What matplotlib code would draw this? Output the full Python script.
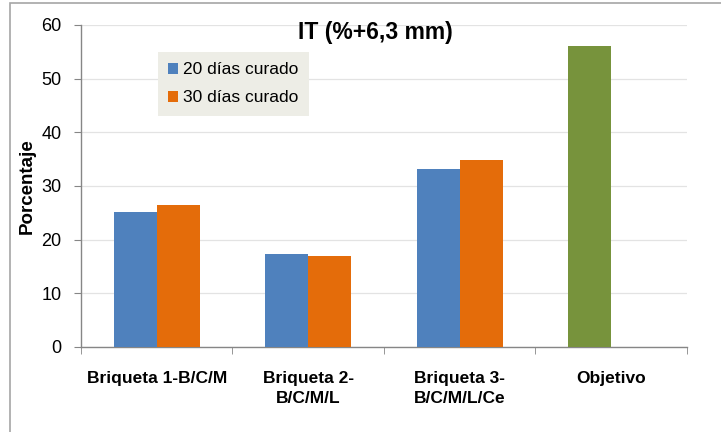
import matplotlib
matplotlib.use('Agg')
import matplotlib.pyplot as plt
from matplotlib.patches import Rectangle
import numpy as np

plt.rcParams['font.family'] = ['Liberation Sans', 'DejaVu Sans']

categories = ['Briqueta 1-B/C/M', 'Briqueta 2-\nB/C/M/L', 'Briqueta 3-\nB/C/M/L/Ce', 'Objetivo']
dias20 = [25.1, 17.3, 33.1, 56.0]
dias30 = [26.4, 17.0, 34.9, np.nan]
series_names = ['20 días curado', '30 días curado']
colors20 = ['#4F81BD', '#4F81BD', '#4F81BD', '#77933C']
color30 = '#E46C0A'

fig = plt.figure(figsize=(7.21, 4.32), dpi=100)
fig.patches.append(Rectangle((10 / 721, -0.05), 1.2, 1 - 3 / 432 + 0.05,
                             transform=fig.transFigure, fill=False,
                             edgecolor='#A6A6A6', linewidth=1.2))
ax = fig.add_axes([0.1123, 0.1968, 0.8405, 0.7454])

x = np.arange(len(categories))
w = 0.284
b1 = ax.bar(x - w / 2, dias20, w, color=colors20, label=series_names[0], zorder=3)
b2 = ax.bar(x + w / 2, dias30, w, color=color30, label=series_names[1], zorder=3)

ax.set_xlim(-0.5, 3.5)
ax.set_ylim(0, 60)
ax.set_yticks(range(0, 61, 10))
ax.tick_params(axis='y', labelsize=13, length=5, color='#868686', pad=9)
ax.set_xticks(x)
ax.set_xticklabels(categories, fontsize=12.5, fontweight='bold', linespacing=1.45)
ax.tick_params(axis='x', which='major', length=0, pad=17)
ax.set_xticks(np.arange(-0.5, 3.6, 1), minor=True)
ax.tick_params(axis='x', which='minor', length=5, color='#868686')

ax.grid(axis='y', color='#E3E3E3', linewidth=0.9, zorder=0)
for s in ['top', 'right']:
    ax.spines[s].set_visible(False)
for s in ['left', 'bottom']:
    ax.spines[s].set_color('#868686')
    ax.spines[s].set_linewidth(1.0)

ax.set_ylabel('Porcentaje', fontsize=13.5, fontweight='bold', labelpad=4)
ax.set_title('IT (%+6,3 mm)', fontsize=16.5, fontweight='bold', x=0.485, y=0.93)

leg = ax.legend(handles=[b1[0], b2], labels=series_names, loc='upper left',
                bbox_to_anchor=(0.127, 0.916), borderaxespad=0, fontsize=12.5,
                frameon=True, fancybox=False, handlelength=0.55, handleheight=0.55,
                handletextpad=0.3, labelspacing=0.75, borderpad=0.6)
leg.get_frame().set_facecolor('#EDEDE6')
leg.get_frame().set_edgecolor('none')
leg.get_frame().set_alpha(1)

fig.savefig('out.png', dpi=100)
